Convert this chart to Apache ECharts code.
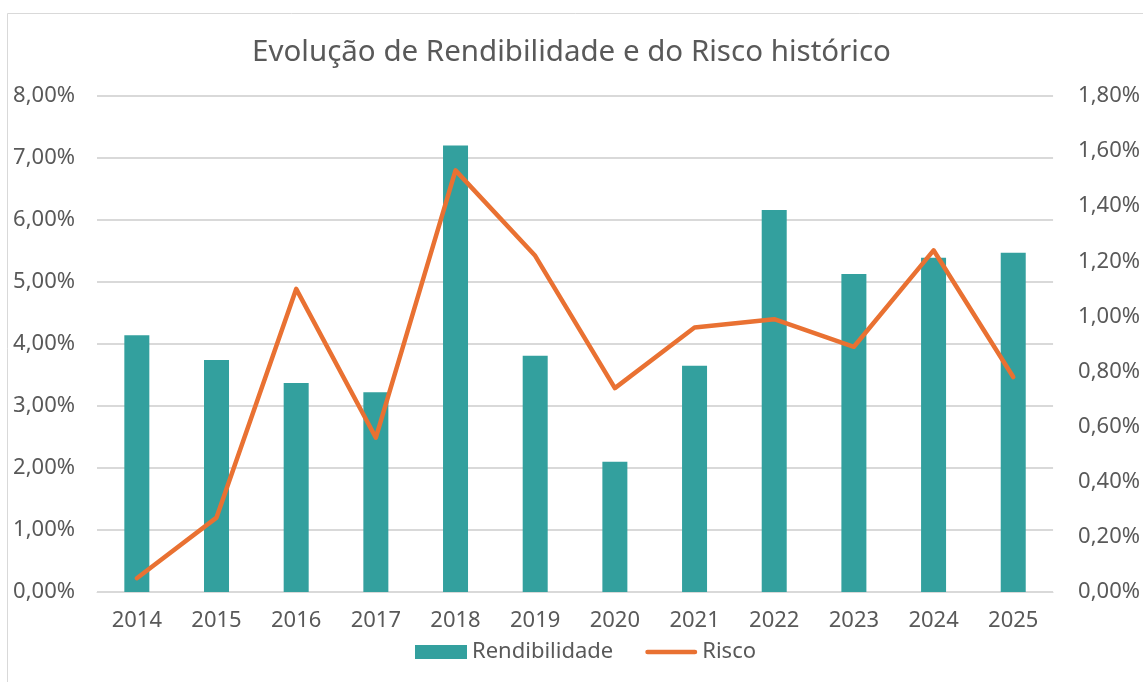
<!DOCTYPE html>
<html>
<head>
<meta charset="utf-8">
<script src="https://cdn.jsdelivr.net/npm/echarts@6/dist/echarts.min.js"></script>
<style>
  html, body { margin: 0; padding: 0; background: #fff; }
  #main { width: 1143px; height: 682px; }
</style>
</head>
<body>
<div id="main"></div>
<script>
var years = ["2014", "2015", "2016", "2017", "2018", "2019", "2020", "2021", "2022", "2023", "2024", "2025"];
var rendibilidade = [4.14, 3.74, 3.37, 3.22, 7.20, 3.81, 2.10, 3.65, 6.16, 5.13, 5.39, 5.47];
var risco = [0.05, 0.27, 1.10, 0.56, 1.53, 1.22, 0.74, 0.96, 0.99, 0.89, 1.24, 0.78];

var txtColor = "#595959";
var font = "Noto Sans";
// rounded bar used as legend icon for the line
var lineIcon = "path://M2.5,0 L53.5,0 A2.5,2.5 0 0 1 53.5,5 L2.5,5 A2.5,2.5 0 0 1 2.5,0 Z";

function pct(v) {
    return v.toFixed(2).replace(".", ",") + "%";
}

var myChart = echarts.init(document.getElementById("main"));
var option = {
    backgroundColor: "#fff",
    textStyle: { fontFamily: font },
    animation: false,
    graphic: [{
        type: "rect",
        shape: { x: 7.5, y: 13.5, width: 1300, height: 900 },
        style: { fill: "none", stroke: "#d9d9d9", lineWidth: 1 },
        silent: true
    }],
    title: {
        text: "Evolução de Rendibilidade e do Risco histórico",
        left: "center",
        top: 33,
        textStyle: { color: txtColor, fontSize: 29.5, fontWeight: "normal", fontFamily: font }
    },
    legend: {
        top: 636,
        left: 410,
        itemWidth: 52,
        itemHeight: 14,
        itemGap: 32,
        textStyle: { color: txtColor, fontSize: 22, fontFamily: font },
        data: [
            { name: "Rendibilidade", icon: "rect" },
            { name: "Risco", icon: lineIcon }
        ]
    },
    grid: {
        left: 97,
        right: 84,
        top: 96,
        bottom: 90
    },
    xAxis: {
        type: "category",
        data: years,
        axisLine: { lineStyle: { color: "#d9d9d9", width: 1 } },
        axisTick: { show: false },
        axisLabel: { color: txtColor, fontSize: 22, margin: 18 }
    },
    yAxis: [
        {
            type: "value",
            min: 0,
            max: 8,
            interval: 1,
            axisLine: { show: false },
            axisTick: { show: false },
            splitLine: { lineStyle: { color: "#d9d9d9", width: 2 } },
            axisLabel: { color: txtColor, fontSize: 22, margin: 22, formatter: pct }
        },
        {
            type: "value",
            min: 0,
            max: 1.8,
            interval: 0.2,
            axisLine: { show: false },
            axisTick: { show: false },
            splitLine: { show: false },
            axisLabel: { color: txtColor, fontSize: 22, margin: 25, align: "left", formatter: pct }
        }
    ],
    series: [
        {
            name: "Rendibilidade",
            type: "bar",
            data: rendibilidade,
            barWidth: 25,
            itemStyle: { color: "#33a09e" }
        },
        {
            name: "Risco",
            type: "line",
            yAxisIndex: 1,
            data: risco,
            symbol: "none",
            lineStyle: { color: "#e97132", width: 4.5, cap: "round", join: "round" },
            itemStyle: { color: "#e97132" }
        }
    ]
};
myChart.setOption(option);
</script>
</body>
</html>
